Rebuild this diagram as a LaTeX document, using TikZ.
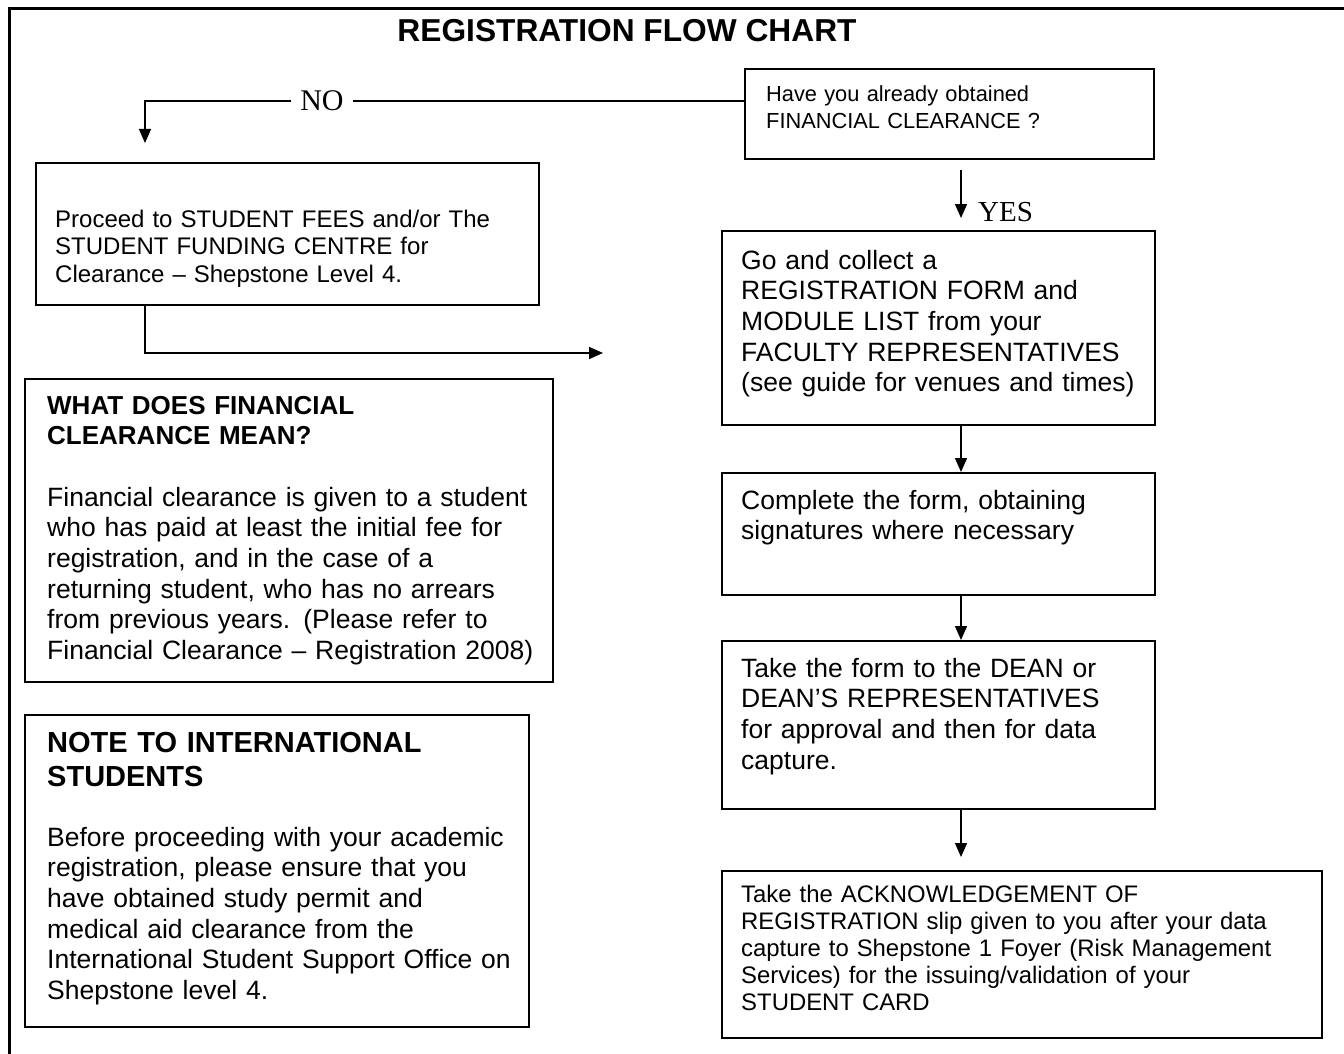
\documentclass[tikz,border=0pt]{standalone}
\usepackage{fontspec}
\setmainfont{Liberation Sans}
\newfontfamily\tnr{Liberation Serif}
\usetikzlibrary{arrows.meta,calc}
\begin{document}
\begin{tikzpicture}[x=1pt,y=-1pt,
  box/.style={draw, line width=1.8pt, inner sep=0pt, anchor=north west},
  tx/.style={anchor=base west, inner sep=0pt, align=left, text width=#1},
  arr/.style={line width=1.4pt, -{Triangle[length=14pt,width=12pt]}},
  ln/.style={line width=1.4pt},
  fbody/.style={font=\fontsize{26.5}{30.7}\selectfont},
  fsmall/.style={font=\fontsize{21.8}{27}\selectfont},
]
\useasboundingbox (0,0) rectangle (1344,1054);
\fill[white] (0,0) rectangle (1344,1054);
% outer frame
\draw[line width=3pt] (1344,9) -- (9,9) -- (9,1054);
% title
\node[font=\bfseries\fontsize{31.7}{36}\selectfont, inner sep=0pt, anchor=base] (title) at (627,42) {REGISTRATION FLOW CHART};

% boxes
\node[box, minimum width=409pt, minimum height=90pt] (Q) at (744,68) {};
\node[box, minimum width=503pt, minimum height=142pt] (A) at (35,162) {};
\node[box, minimum width=433pt, minimum height=194pt] (C) at (721,230) {};
\node[box, minimum width=528pt, minimum height=303pt] (B) at (24,378) {};
\node[box, minimum width=433pt, minimum height=122pt] (D) at (721,472) {};
\node[box, minimum width=433pt, minimum height=168pt] (E) at (721,640) {};
\node[box, minimum width=504pt, minimum height=312pt] (G) at (24,714) {};
\node[box, minimum width=600pt, minimum height=167pt] (F) at (721,870) {};

% texts
\node[tx=400pt, fsmall] (Qt) at (766,102) {Have you already obtained\\FINANCIAL CLEARANCE ?};
\node[tx=490pt, font=\fontsize{24}{27.5}\selectfont] (At) at (55,227) {Proceed to STUDENT FEES and/or The\\STUDENT FUNDING CENTRE for\\Clearance -- Shepstone Level 4.};
\node[tx=420pt, fbody] (Ct) at (741,269) {Go and collect a\\REGISTRATION FORM and\\MODULE LIST from your\\FACULTY REPRESENTATIVES\\(see guide for venues and times)};
\node[tx=420pt, fbody] (Dt) at (741,509) {Complete the form, obtaining\\signatures where necessary};
\node[tx=420pt, fbody] (Et) at (741,677) {Take the form to the DEAN or\\DEAN’S REPRESENTATIVES\\for approval and then for data\\capture.};
\node[tx=580pt, font=\fontsize{23.9}{27}\selectfont] (Ft) at (741,902) {Take the ACKNOWLEDGEMENT OF\\REGISTRATION slip given to you after your data\\capture to Shepstone 1 Foyer (Risk Management\\Services) for the issuing/validation of your\\STUDENT CARD};
\node[tx=500pt, font=\bfseries\fontsize{26}{30}\selectfont] (Bh) at (47,414) {WHAT DOES FINANCIAL\\CLEARANCE MEAN?};
\node[tx=500pt, fbody] (Bt) at (47,506) {Financial clearance is given to a student\\who has paid at least the initial fee for\\registration, and in the case of a\\returning student, who has no arrears\\from previous years. (Please refer to\\Financial Clearance -- Registration 2008)};
\node[tx=480pt, font=\bfseries\fontsize{29}{34}\selectfont] (Gh) at (47,752) {NOTE TO INTERNATIONAL\\STUDENTS};
\node[tx=480pt, fbody] (Gt) at (47,846) {Before proceeding with your academic\\registration, please ensure that you\\have obtained study permit and\\medical aid clearance from the\\International Student Support Office on\\Shepstone level 4.};

% labels
\node[font=\tnr\fontsize{30}{34}\selectfont, inner xsep=9pt, inner ysep=0pt] (no) at (322,101) {NO};
\node[font=\tnr\fontsize{29}{34}\selectfont, inner sep=0pt, anchor=west] (yes) at (978,212) {YES};

% helper coordinates
\coordinate (ax) at (961,0);
\coordinate (noL) at (145,101);
\coordinate (noEnd) at (145,143);
\coordinate (aDown) at (145,353);
\coordinate (aEnd) at (603,353);
\coordinate (qOut) at (961,170);
\coordinate (yEnd) at (961,218);
\coordinate (fEnd) at (961,857);

% connectors
\draw[ln] (Q.west |- no) -- (no.east);
\draw[arr] (no.west) -- (noL) -- (noEnd);
\draw[arr] (A.south -| noL) -- (aDown) -- (aEnd);
\draw[arr] (qOut) -- (yEnd);
\draw[arr] (C.south -| ax) -- (D.north -| ax);
\draw[arr] (D.south -| ax) -- (E.north -| ax);
\draw[arr] (E.south -| ax) -- (fEnd);
\end{tikzpicture}
\end{document}
